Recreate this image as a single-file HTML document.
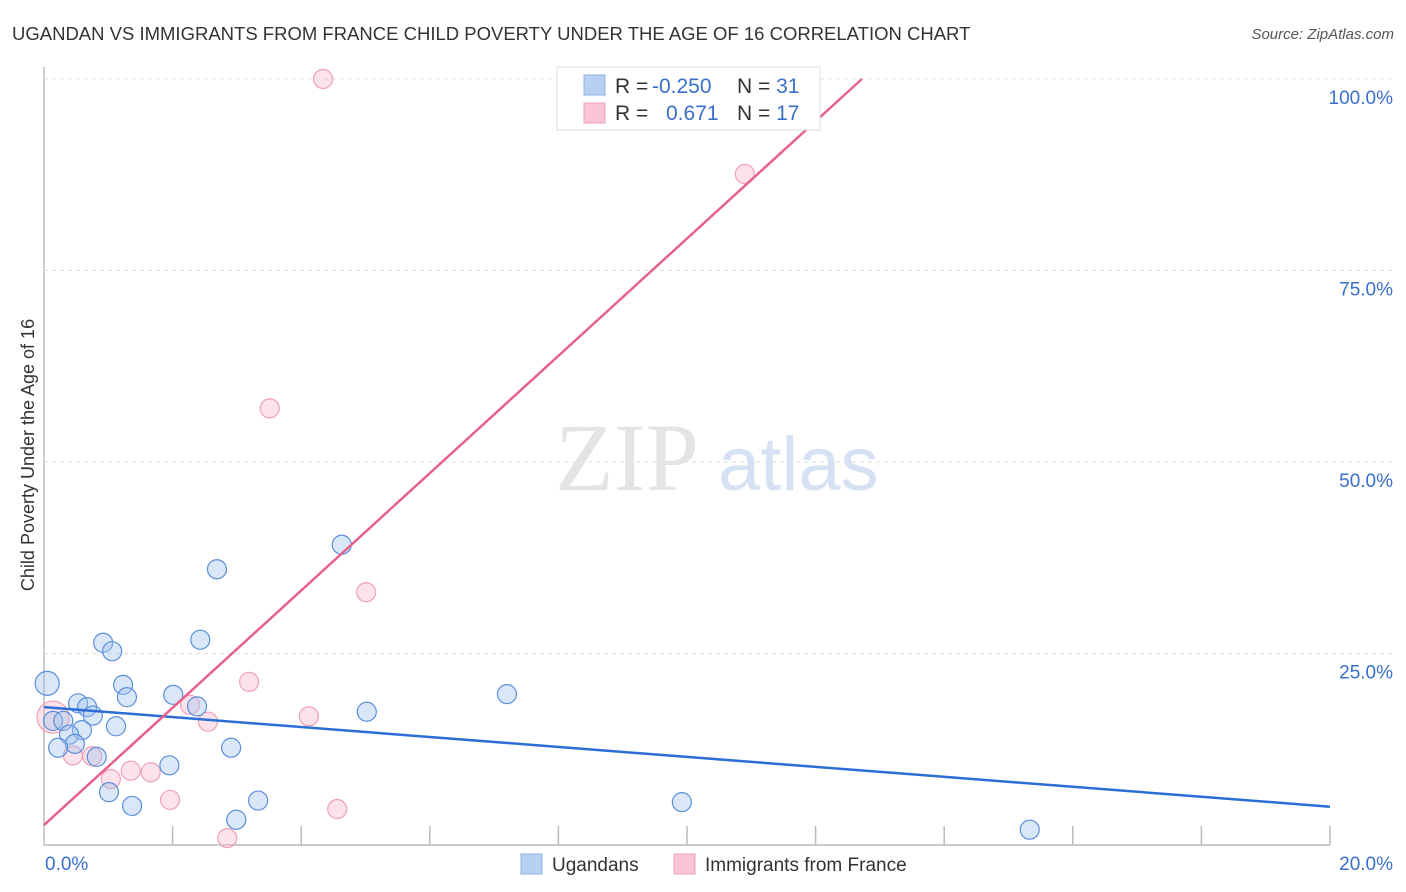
<!DOCTYPE html>
<html><head><meta charset="utf-8">
<style>
body{margin:0;background:#fff;font-family:"Liberation Sans",sans-serif;}
svg{display:block}
</style></head>
<body>
<svg id="chart" width="1406" height="892" xmlns="http://www.w3.org/2000/svg">
<text x="12" y="40" font-size="18.5" fill="#333">UGANDAN VS IMMIGRANTS FROM FRANCE CHILD POVERTY UNDER THE AGE OF 16 CORRELATION CHART</text>
<text x="1394" y="39" font-size="15" font-style="italic" fill="#555" text-anchor="end">Source: ZipAtlas.com</text>
<g id="grid"></g>
<text x="555" y="490" font-size="96" font-family="Liberation Serif,serif" fill="#e4e4e4">ZIP</text>
<text x="718" y="490" font-size="76" fill="#d6e2f3">atlas</text>
<text transform="translate(34,455) rotate(-90)" font-size="18" fill="#333" text-anchor="middle">Child Poverty Under the Age of 16</text>
<g id="marks"></g>
<g>
<rect x="557" y="67" width="263" height="63" fill="#fff" stroke="#ddd"/>
<rect x="584" y="75" width="21" height="20" fill="#b8d1f3" stroke="#8db2e6"/>
<rect x="584" y="103" width="21" height="20" fill="#f9c4d4" stroke="#f0a0b8"/>
<text x="615" y="93" font-size="21" fill="#333">R = <tspan x="652" fill="#3a6fc9">-0.250</tspan><tspan x="737">N = </tspan><tspan fill="#3a6fc9">31</tspan></text>
<text x="615" y="120" font-size="21" fill="#333">R = <tspan x="666" fill="#3a6fc9">0.671</tspan><tspan x="737">N = </tspan><tspan fill="#3a6fc9">17</tspan></text>
</g>
<g>
<rect x="521" y="854" width="21" height="20" fill="#b8d1f3" stroke="#8db2e6"/>
<text x="552" y="871" font-size="19" fill="#333">Ugandans</text>
<rect x="674" y="854" width="21" height="20" fill="#f9c4d4" stroke="#f0a0b8"/>
<text x="705" y="871" font-size="19" fill="#333">Immigrants from France</text>
</g>
</svg>
<script>
const xTickLabels=["0.0%","20.0%"];
const yTicks=[25,50,75,100];
const yTickLabels=["25.0%","50.0%","75.0%","100.0%"];
const ugX=[0.05,0.92,1.06,2.43,1.23,1.29,0.53,0.67,0.76,2.01,2.38,0.14,0.30,0.59,0.39,0.48,0.22,0.82,1.12,1.95,2.91,1.01,1.37,2.99,3.33,5.02,2.69,4.63,7.20,9.92,15.33];
const ugY=[21.1,26.4,25.3,26.8,20.9,19.3,18.5,18.0,16.9,19.6,18.1,16.2,16.2,15.0,14.4,13.2,12.7,11.5,15.5,10.4,12.7,6.9,5.1,3.3,5.8,17.4,36.0,39.2,19.7,5.6,2.0];
const frX=[4.34,10.90,3.51,5.01,3.19,4.12,2.27,2.55,0.45,0.75,1.04,1.35,1.66,1.96,4.56,2.85,0.14];
const frY=[100.0,87.6,57.0,33.0,21.3,16.8,18.3,16.1,11.7,11.6,8.6,9.7,9.5,5.9,4.7,0.9,16.7];
const ugLine=[[0,18.0],[20,5.0]];
const frLine=[[0,2.6],[12.72,100]];

const NS="http://www.w3.org/2000/svg";
const X0=44,X1=1330,Y0=845,Y100=79;
const sx=v=>X0+(X1-X0)*v/20;
const sy=v=>Y0-(Y0-Y100)*v/100;
function mk(t,a,p){const e=document.createElementNS(NS,t);for(const k in a)e.setAttribute(k,a[k]);p.appendChild(e);return e;}
const grid=document.getElementById('grid'),marks=document.getElementById('marks');
mk('line',{x1:X0,y1:67,x2:X0,y2:Y0,stroke:'#bbb','stroke-width':1.5},grid);
mk('line',{x1:X0,y1:Y0,x2:X1,y2:Y0,stroke:'#bbb','stroke-width':1.5},grid);
for(let i=1;i<=10;i++){const t=mk('line',{x1:sx(i*2),y1:826,x2:sx(i*2),y2:Y0,stroke:'#bbb','stroke-width':1.5},grid);

}
yTicks.forEach((v,i)=>{
const g=mk('line',{x1:X0,y1:sy(v),x2:1394,y2:sy(v),stroke:'#ddd','stroke-dasharray':'4,4'},grid);


const t=mk('text',{x:1393,y:sy(v)+25,'font-size':19,fill:'#3a6fc9','text-anchor':'end'},grid);
t.textContent=yTickLabels[i];

});
const xl0=mk('text',{x:45,y:870,'font-size':19,fill:'#3a6fc9'},grid);xl0.textContent=xTickLabels[0];


const xl1=mk('text',{x:1393,y:870,'font-size':19,fill:'#3a6fc9','text-anchor':'end'},grid);xl1.textContent=xTickLabels[1];


frX.forEach((v,i)=>{const c=mk('circle',{cx:sx(v),cy:sy(frY[i]),r:i===16?16:9.5,fill:'rgba(248,182,202,0.4)',stroke:'#f0a0b8','stroke-width':1.2},marks);

});
ugX.forEach((v,i)=>{const c=mk('circle',{cx:sx(v),cy:sy(ugY[i]),r:i===0?12:9.5,fill:'rgba(160,195,238,0.4)',stroke:'#5b8fdb','stroke-width':1.2},marks);

});
const bl=mk('line',{x1:sx(ugLine[0][0]),y1:sy(ugLine[0][1]),x2:sx(ugLine[1][0]),y2:sy(ugLine[1][1]),stroke:'#2b6fd6','stroke-width':2.5},marks);


const pl=mk('line',{x1:sx(frLine[0][0]),y1:sy(frLine[0][1]),x2:sx(frLine[1][0]),y2:sy(frLine[1][1]),stroke:'#e8618c','stroke-width':2.5},marks);


</script>
</body></html>
